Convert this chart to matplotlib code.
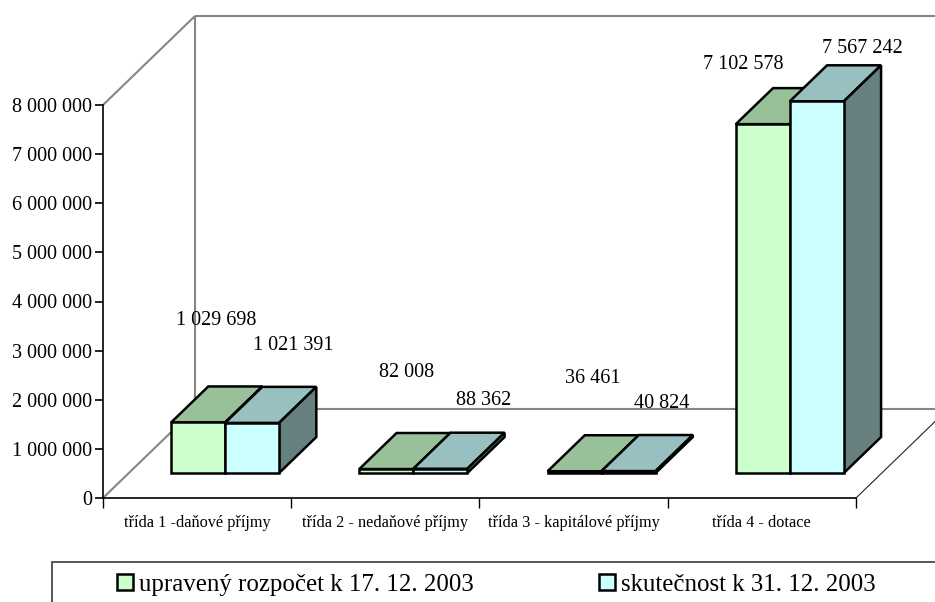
import matplotlib
matplotlib.use("Agg")
import matplotlib.pyplot as plt
from matplotlib.patches import Polygon, Patch, Rectangle

plt.rcParams['font.family'] = ['Liberation Serif', 'DejaVu Serif']

categories = ['třída 1 -daňové příjmy', 'třída 2 - nedaňové příjmy',
              'třída 3 - kapitálové příjmy', 'třída 4 - dotace']
series_names = ['upravený rozpočet k 17. 12. 2003', 'skutečnost k 31. 12. 2003']
budget = [1029698, 82008, 36461, 7102578]
actual = [1021391, 88362, 40824, 7567242]
value_labels_budget = ['1 029 698', '82 008', '36 461', '7 102 578']
value_labels_actual = ['1 021 391', '88 362', '40 824', '7 567 242']
y_ticks = [0, 1000000, 2000000, 3000000, 4000000, 5000000, 6000000, 7000000, 8000000]
y_tick_labels = ['0', '1 000 000', '2 000 000', '3 000 000', '4 000 000',
                 '5 000 000', '6 000 000', '7 000 000', '8 000 000']

W, H = 935, 602
fig = plt.figure(figsize=(W / 100, H / 100), dpi=100, facecolor='white')
ax = fig.add_axes([103 / W, 1 - 498 / H, 753 / W, 393 / H])
ax.set_xlim(0, 4)
ax.set_ylim(0, 8000000)
ax.patch.set_alpha(0)

PX_X = 753 / 4          # pixels per category
PX_Y = 393 / 8000000    # pixels per unit
DX = 92 / PX_X          # depth shift of the back wall
DY = 89 / PX_Y


def proj(x, y, d):
    return (x + d * DX, y + d * DY)


GREY = '#868686'
kw = dict(color=GREY, lw=1.5, clip_on=False, zorder=1, solid_capstyle='butt')
xmax = 4
ymax = 8000000
for a, b in [((0, ymax, 1), (xmax, ymax, 1)), ((0, 0, 1), (xmax, 0, 1)),
             ((0, 0, 1), (0, ymax, 1)), ((0, 0, 0), (0, 0, 1)),
             ((0, ymax, 0), (0, ymax, 1))]:
    p, q = proj(*a), proj(*b)
    ax.plot([p[0], q[0]], [p[1], q[1]], **kw)
p, q = proj(xmax, 0, 0), proj(xmax, 0, 1)
ax.plot([p[0], q[0]], [p[1], q[1]], color='#222222', lw=0.8, clip_on=False, zorder=1)

D0, D1 = 0.28, 0.685
BAR_W = 54 / PX_X
GAP = 42.3 / PX_X
colors = [('#CCFFCC', '#99C199', '#6E8A6E'), ('#CCFFFF', '#99C0C0', '#668080')]


def poly(points, face, z):
    ax.add_patch(Polygon([proj(*pt) for pt in points], closed=True, facecolor=face,
                         edgecolor='black', lw=1.8, joinstyle='miter',
                         clip_on=False, zorder=z))


z = 2
for i in range(len(categories)):
    for s, vals in enumerate([budget, actual]):
        x0 = i + GAP + s * BAR_W
        x1 = x0 + BAR_W
        v = vals[i]
        front, top, side = colors[s]
        poly([(x0, v, D0), (x1, v, D0), (x1, v, D1), (x0, v, D1)], top, z)
        poly([(x1, 0, D0), (x1, v, D0), (x1, v, D1), (x1, 0, D1)], side, z)
        poly([(x0, 0, D0), (x1, 0, D0), (x1, v, D0), (x0, v, D0)], front, z)
        z += 1

# label shifts from the bar's front top centre, in pixels
budget_label_shift = [(18.5, 102), (20.5, 97), (18, 93), (-20, 60)]
actual_label_shift = [(41, 77), (43, 68), (33, 68), (45.5, 53)]
for s, (vals, labels, shifts) in enumerate([(budget, value_labels_budget, budget_label_shift),
                                            (actual, value_labels_actual, actual_label_shift)]):
    for i, (v, lab, sh) in enumerate(zip(vals, labels, shifts)):
        xc = i + GAP + (s + 0.5) * BAR_W
        ax.annotate(lab, xy=proj(xc, v, D0), xytext=(sh[0] * 0.72, sh[1] * 0.72),
                    textcoords='offset points', ha='center', va='center',
                    fontsize=14.5, color='black', zorder=50, annotation_clip=False)

for sp in ['top', 'right']:
    ax.spines[sp].set_visible(False)
for sp in ['left', 'bottom']:
    ax.spines[sp].set_linewidth(1.2)
    ax.spines[sp].set_zorder(20)
ax.set_yticks(y_ticks)
ax.set_yticklabels(y_tick_labels, fontsize=14.5)
ax.tick_params(axis='y', length=6, width=1.2, pad=2)
ax.set_xticks(range(len(categories) + 1))
ax.set_xticklabels([''] * (len(categories) + 1))
ax.tick_params(axis='x', which='major', length=7, width=1.0)
ax.set_xticks([i + 0.5 for i in range(len(categories))], minor=True)
ax.set_xticklabels(categories, minor=True, fontsize=11.7)
ax.tick_params(axis='x', which='minor', length=0, pad=12)

fig.add_artist(Rectangle((52 / W, -0.05), 1, 1 - 562 / H + 0.05, transform=fig.transFigure,
                         facecolor='white', edgecolor='#4a4a4a', lw=1.3))
handles = [Patch(facecolor=colors[k][0], edgecolor='black', lw=1.8, label=series_names[k])
           for k in range(2)]
fig.legend(handles=handles, loc='center left', ncols=2, frameon=False,
           bbox_to_anchor=(107 / W, 1 - 585 / H), borderaxespad=0, borderpad=0.4,
           fontsize=17.9, handlelength=0.64, handleheight=0.64,
           handletextpad=0.25, columnspacing=5.05)
fig.savefig('out.png', dpi=100, facecolor='white')
